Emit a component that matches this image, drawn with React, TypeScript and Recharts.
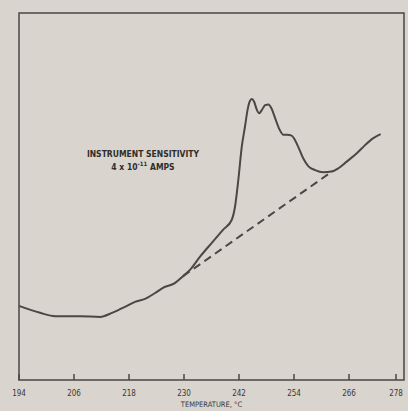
import { Line, LineChart, ReferenceArea, XAxis, YAxis } from 'recharts'

// detector current vs temperature, arbitrary vertical units (0-100 = full frame)
const temps = [
  194, 198.6, 201.9, 207.3, 211.7, 214.3, 217.1, 219.3, 221.5, 223.7, 225.4, 228.0, 229.8,
  231.3, 233.5, 236.3, 238.5, 240.4, 241.1, 241.85, 242.6, 243.3, 243.9, 244.3,
  244.8, 245.3, 245.9, 246.4, 247.0, 247.7, 248.4, 249.1, 249.9, 250.9, 251.7, 252.5,
  253.5, 254.2, 254.9, 256.0, 257.1, 258.6, 260.4, 262.2, 263.7, 265.5, 267.7, 269.5,
  271.3, 272.9,
]
const current = [
  20.2, 18.3, 17.4, 17.4, 17.2, 18.3, 19.9, 21.3, 22.1, 23.7, 25.1, 26.4, 28.3,
  30.0, 33.6, 37.7, 40.9, 43.6, 47.0, 54.5, 63.5, 69.0, 73.8, 75.8,
  76.6, 75.8, 73.6, 72.7, 73.6, 74.9, 75.1, 74.0, 71.3, 68.1, 66.8, 66.8,
  66.6, 65.4, 63.6, 60.4, 58.3, 57.2, 56.6, 56.8, 57.7, 59.5, 61.8, 64.0,
  65.9, 67.0,
]

// extrapolated baseline under the peak
const baseTemps = [229.8, 262.4]
const baseCurrent = [28.3, 56.9]

const xTicks = [194, 206, 218, 230, 242, 254, 266, 278]

const curve = temps.map((t, i) => ({ t, v: current[i] }))
const baseline = baseTemps.map((t, i) => ({ t, v: baseCurrent[i] }))

const ink = '#4a4744'
const paper = '#d9d5ce'
const condensed = "'Liberation Sans Narrow', 'DejaVu Sans Condensed', 'Liberation Sans', sans-serif"

const PLOT_BOTTOM = 380

// tick marks point up into the frame, labels sit under the axis
function TempTick(props: any) {
  const { x, payload } = props
  return (
    <g>
      <line x1={x} y1={PLOT_BOTTOM - 6} x2={x} y2={PLOT_BOTTOM} stroke={ink} strokeWidth={1.5} />
      <text x={x} y={PLOT_BOTTOM + 16} textAnchor="middle" fontSize={8} fontFamily={condensed} fill="#3a3835">
        {payload.value}
      </text>
    </g>
  )
}

export default function App() {
  return (
    <div
      style={{
        position: 'absolute',
        left: 0,
        top: 0,
        width: 408,
        height: 411,
        background: paper,
        overflow: 'hidden',
      }}
    >
      <LineChart width={408} height={411} margin={{ top: 13, right: 4, bottom: 0, left: 19 }}>
        <XAxis
          type="number"
          dataKey="t"
          domain={[194, 278]}
          ticks={xTicks}
          height={31}
          tickSize={0}
          tickMargin={0}
          tickLine={false}
          tick={<TempTick />}
          axisLine={false}
          label={{
            value: 'TEMPERATURE, °C',
            position: 'insideBottom',
            offset: 4,
            fontSize: 7.5,
            fontFamily: condensed,
            fill: '#3a3835',
          }}
        />
        <YAxis type="number" domain={[0, 100]} width={0} hide />
        <ReferenceArea
          x1={194}
          x2={278}
          y1={0}
          y2={100}
          fill="none"
          fillOpacity={0}
          stroke={ink}
          strokeWidth={1.5}
          ifOverflow="visible"
        />
        <Line
          data={baseline}
          dataKey="v"
          type="linear"
          stroke={ink}
          strokeWidth={2}
          strokeDasharray="8 5"
          dot={false}
          isAnimationActive={false}
        />
        <Line
          data={curve}
          dataKey="v"
          type="monotone"
          stroke={ink}
          strokeWidth={2}
          dot={false}
          isAnimationActive={false}
        />
      </LineChart>
      <div
        style={{
          position: 'absolute',
          left: 60,
          top: 148,
          width: 166,
          textAlign: 'center',
          fontFamily: condensed,
          fontSize: 8.5,
          lineHeight: '13px',
          color: '#2f2d2a',
          fontWeight: 'bold',
        }}
      >
        <div>INSTRUMENT SENSITIVITY</div>
        <div>
          4 x 10<sup style={{ fontSize: 6, lineHeight: 0 }}>-11</sup> AMPS
        </div>
      </div>
    </div>
  )
}
